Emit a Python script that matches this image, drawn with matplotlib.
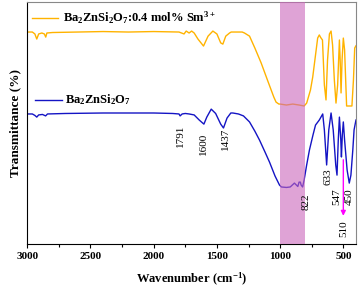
import matplotlib
matplotlib.use('Agg')
import matplotlib.pyplot as plt

# FTIR spectra (transmittance in arbitrary % units)
wn_doped = [3000, 2960, 2940, 2925, 2910, 2885, 2865, 2854, 2845, 2800, 2600, 2400, 2200, 2000,
            1800, 1760, 1743, 1720, 1700, 1680, 1650, 1606, 1570, 1532, 1500, 1470, 1453, 1430,
            1400, 1387, 1300, 1282, 1242, 1200, 1150, 1100, 1050, 1032, 1010, 1000, 950, 900,
            850, 810, 790, 760, 742, 703, 690, 680, 665, 650, 637, 625, 610, 597, 585, 571,
            558, 545, 531, 525, 518, 510, 500, 490, 474, 450, 432, 420, 410, 400]
t_doped = [87.7, 87.7, 86.9, 84.8, 86.9, 87.3, 86.9, 85.6, 87.3, 87.5, 87.7, 87.9, 87.7, 87.9,
           87.7, 86.9, 88.1, 87.3, 88.1, 87.3, 84.8, 81.9, 86.0, 88.1, 86.9, 83.2, 82.7, 86.0,
           87.3, 87.7, 87.7, 87.3, 86.0, 81.1, 74.9, 67.8, 60.8, 58.7, 57.9, 57.9, 57.5, 57.9,
           57.5, 57.1, 58.3, 63.7, 69.1, 85.2, 86.5, 85.5, 84.4, 65.8, 59.6, 76.1, 86.9, 88.1,
           82.3, 67.8, 58.3, 65.8, 84.4, 76.1, 62.5, 76.1, 85.2, 80.3, 57.1, 57.1, 57.1, 67.8,
           81.1, 82.0]

wn_pure = [3000, 2960, 2940, 2925, 2910, 2880, 2855, 2840, 2700, 2400, 2000, 1850, 1800, 1791,
           1775, 1750, 1720, 1680, 1640, 1603, 1580, 1545, 1510, 1470, 1448, 1420, 1390, 1374,
           1330, 1290, 1242, 1200, 1163, 1120, 1084, 1040, 1005, 990, 950, 920, 887, 860, 850,
           840, 834, 822, 810, 790, 768, 740, 720, 690, 663, 650, 632, 615, 597, 580, 560, 550,
           540, 531, 520, 515, 508, 500, 490, 470, 453, 440, 425, 415, 400]
t_pure = [53.8, 53.8, 53.2, 52.5, 53.4, 53.6, 53.0, 53.8, 54.0, 54.2, 54.2, 54.0, 53.8, 53.0,
          53.8, 54.0, 53.8, 53.4, 51.3, 49.6, 52.5, 55.8, 54.0, 49.6, 48.0, 52.1, 54.2, 54.2,
          53.8, 53.0, 50.5, 46.7, 43.0, 38.1, 33.9, 28.1, 24.4, 23.6, 23.4, 23.6, 25.2, 23.8,
          25.6, 25.6, 24.4, 23.6, 26.5, 32.7, 38.9, 45.1, 49.2, 51.3, 53.8, 47.2, 32.7, 47.2,
          54.2, 47.2, 32.7, 28.5, 43.0, 52.5, 43.0, 36.0, 45.1, 50.5, 43.0, 30.6, 25.2, 28.5,
          38.9, 47.2, 51.3]

peak_pos = [1791, 1606, 1432, 795, 622, 555, 457]
peak_txt = ['1791', '1600', '1437', '822', '633', '547', '450']
peak_top = [49.5, 45.9, 48.0, 21.1, 31.4, 23.2, 23.2]

c_doped = '#FFB300'
c_pure = '#1414C4'
serif = ['Liberation Serif', 'DejaVu Serif']

plt.rcParams['font.family'] = serif
plt.rcParams['mathtext.fontset'] = 'custom'
plt.rcParams['mathtext.rm'] = 'Liberation Serif:bold'
plt.rcParams['mathtext.it'] = 'Liberation Serif:bold'
plt.rcParams['mathtext.bf'] = 'Liberation Serif:bold'

fig = plt.figure(figsize=(3.6, 2.91), dpi=100)
ax = fig.add_axes([0.0758, 0.1615, 0.913, 0.8306])

ax.plot(wn_doped, t_doped, color=c_doped, lw=1.0)
ax.plot(wn_pure, t_pure, color=c_pure, lw=1.0)
ax.axvspan(1000, 805, color='#CB66BB', alpha=0.6, lw=0, zorder=3)

ax.set_xlim(3000, 400)
ax.set_ylim(0, 100)
ax.set_yticks([])
ax.set_xticks([3000, 2500, 2000, 1500, 1000, 500])
ax.set_xticks([2750, 2250, 1750, 1250, 750], minor=True)
ax.tick_params(axis='x', which='major', length=3, width=0.8, labelsize=8, pad=3)
ax.tick_params(axis='x', which='minor', length=2, width=0.8)
for lab in ax.get_xticklabels():
    lab.set_fontweight('bold')
for s in ['top', 'right']:
    ax.spines[s].set_color('#888888')
for s in ['left', 'bottom']:
    ax.spines[s].set_color('black')

ax.set_xlabel('Wavenumber (cm$^{-1}$)', fontsize=9, fontweight='bold', labelpad=7)
ax.set_ylabel('Transmittance (%)', fontsize=9.5, fontweight='bold', labelpad=4)

# hand-drawn legend entries
ax.plot([0.014, 0.093], [0.935, 0.935], color=c_doped, lw=1.0, transform=ax.transAxes)
ax.text(0.109, 0.935, 'Ba$_2$ZnSi$_2$O$_7$:0.4 mol% Sm$^{3+}$', transform=ax.transAxes,
        fontsize=9, fontweight='bold', va='center', ha='left')
ax.plot([0.023, 0.106], [0.596, 0.596], color=c_pure, lw=1.0, transform=ax.transAxes)
ax.text(0.115, 0.596, 'Ba$_2$ZnSi$_2$O$_7$', transform=ax.transAxes,
        fontsize=9, fontweight='bold', va='center', ha='left')

for x, t, y in zip(peak_pos, peak_txt, peak_top):
    ax.text(x, y, t, rotation=90, ha='center', va='top', fontsize=8, zorder=4)

ax.annotate('', xy=(500, 10.5), xytext=(500, 36),
            arrowprops=dict(arrowstyle='-|>', color='#FF00FF', lw=1.0, mutation_scale=7))
ax.text(500, 9.6, '510', rotation=90, ha='center', va='top', fontsize=8)

fig.savefig('out.png', dpi=100)
